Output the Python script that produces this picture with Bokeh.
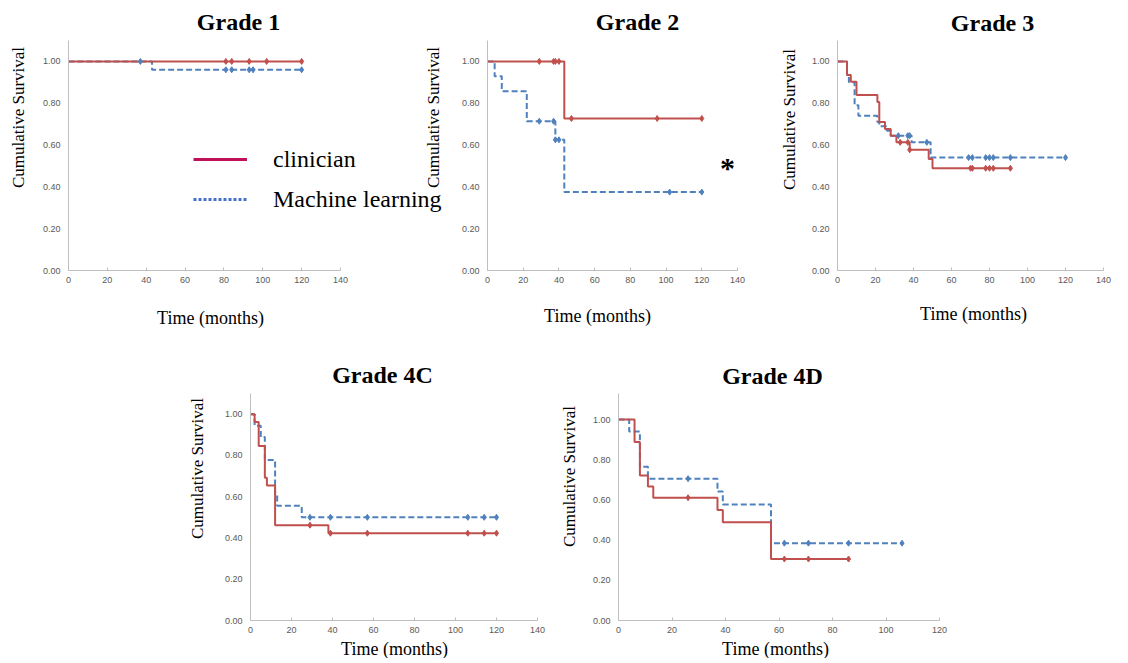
import numpy as np
from bokeh.plotting import figure
from bokeh.models import (Label, Legend, LegendItem, FixedTicker,
                          NumeralTickFormatter, Range1d, Spacer)
from bokeh.layouts import row, column
from bokeh.embed import file_html
from bokeh.resources import INLINE

RED = "#C0504D"
BLUE = "#4F81BD"
SERIF = "Liberation Serif"
SANS = "Liberation Sans"

# ---------------- data (Kaplan-Meier step values) ----------------
titles = ["Grade 1", "Grade 2", "Grade 3", "Grade 4C", "Grade 4D"]
x_max = [140, 140, 140, 140, 120]
y_ticks = [0.0, 0.2, 0.4, 0.6, 0.8, 1.0]
legend_labels = ["clinician", "Machine learning"]
y_title = "Cumulative Survival"
x_title = "Time (months)"
signif_mark = "*"

# Grade 1
g1_clin_t = [0, 120]
g1_clin_s = [1.0, 1.0]
g1_clin_cens = [81, 84, 93, 102, 120]
g1_ml_t = [0, 43, 120]
g1_ml_s = [1.0, 0.96, 0.96]
g1_ml_cens = [37, 81, 84, 93, 95, 120]

# Grade 2
g2_clin_t = [0, 43, 120]
g2_clin_s = [1.0, 0.727, 0.727]
g2_clin_cens = [29, 37, 38, 40, 47, 95, 120]
g2_ml_t = [0, 4, 8, 22, 38, 43, 120]
g2_ml_s = [1.0, 0.929, 0.857, 0.714, 0.625, 0.375, 0.375]
g2_ml_cens = [29, 37, 38, 40, 102, 120]

# Grade 3
g3_clin_t = [0, 5, 7, 10, 21, 22, 25, 28, 31, 38, 48, 50, 91]
g3_clin_s = [1.0, 0.935, 0.903, 0.839, 0.806, 0.710, 0.677, 0.645, 0.613,
             0.577, 0.533, 0.489, 0.489]
g3_clin_cens = [33, 37, 38, 70, 71, 78, 80, 82, 91]
g3_ml_t = [0, 5, 6, 9, 11, 21, 22, 26, 28, 39, 49, 120]
g3_ml_s = [1.0, 0.935, 0.90, 0.79, 0.74, 0.71, 0.69, 0.668, 0.645, 0.613,
           0.54, 0.54]
g3_ml_cens = [32, 37, 38, 47, 69, 71, 78, 80, 82, 91, 120]

# Grade 4C
g4c_clin_t = [0, 2, 4, 7, 8, 12, 38, 120]
g4c_clin_s = [1.0, 0.962, 0.846, 0.692, 0.654, 0.462, 0.423, 0.423]
g4c_clin_cens = [29, 39, 57, 106, 114, 120]
g4c_ml_t = [0, 2, 5, 7, 12, 13, 25, 120]
g4c_ml_s = [1.0, 0.944, 0.889, 0.778, 0.611, 0.556, 0.5, 0.5]
g4c_ml_cens = [29, 39, 57, 106, 114, 120]

# Grade 4D
g4d_clin_t = [0, 6, 8, 11, 13, 37, 39, 57, 86]
g4d_clin_s = [1.0, 0.889, 0.722, 0.667, 0.611, 0.55, 0.489, 0.306, 0.306]
g4d_clin_cens = [26, 62, 71, 86]
g4d_ml_t = [0, 4, 8, 11, 37, 39, 57, 106]
g4d_ml_s = [1.0, 0.941, 0.765, 0.706, 0.642, 0.578, 0.385, 0.385]
g4d_ml_cens = [26, 62, 71, 86, 106]


def surv_at(times, surv, cens):
    idx = np.searchsorted(np.asarray(times, float), np.asarray(cens, float), side="right") - 1
    return [surv[i] for i in idx]


def panel(w, h, left, top, fw, fh, xmax, ymax, clin, ml):
    p = figure(frame_width=fw, frame_height=fh,
               min_border_left=left, min_border_top=top,
               min_border_right=w - left - fw,
               min_border_bottom=h - top - fh,
               x_range=Range1d(0, xmax), y_range=Range1d(0, ymax),
               title=None, toolbar_location=None, tools="",
               output_backend="svg")
    p.outline_line_color = None
    p.border_fill_alpha = 0
    p.background_fill_alpha = 0
    p.xgrid.visible = False
    p.ygrid.visible = False
    for ax in (p.xaxis[0], p.yaxis[0]):
        ax.axis_line_color = "#BFBFBF"
        ax.axis_line_width = 1
        ax.major_tick_line_color = "#BFBFBF"
        ax.minor_tick_line_color = None
        ax.major_label_text_font = SANS
        ax.major_label_text_font_size = "9px"
        ax.major_label_text_color = "#595959"
    p.xaxis.ticker = FixedTicker(ticks=list(range(0, xmax + 1, 20)))
    p.yaxis.ticker = FixedTicker(ticks=y_ticks)
    p.yaxis.formatter = NumeralTickFormatter(format="0.00")
    p.xaxis.major_tick_in = 3
    p.xaxis.major_tick_out = 0
    p.yaxis.major_tick_in = 0
    p.yaxis.major_tick_out = 0
    p.xaxis.major_label_standoff = 6
    p.yaxis.major_label_standoff = 8

    ct, cs, cc = clin
    mt, ms, mc = ml
    p.step(x=mt, y=ms, mode="after", line_color=BLUE, line_width=2, line_dash="6 3")
    p.step(x=ct, y=cs, mode="after", line_color=RED, line_width=2)
    p.scatter(x=mc, y=surv_at(mt, ms, mc), marker="diamond", size=6,
              fill_color=BLUE, line_color=BLUE)
    p.scatter(x=cc, y=surv_at(ct, cs, cc), marker="diamond", size=6,
              fill_color=RED, line_color=RED)
    return p


# ---------------- panels (frames in a row share their top edge) ----------------
p1 = panel(412, 335, 68, 40, 272, 230, x_max[0], 1.1,
           (g1_clin_t, g1_clin_s, g1_clin_cens), (g1_ml_t, g1_ml_s, g1_ml_cens))
p2 = panel(368, 335, 75, 40, 250, 230, x_max[1], 1.1,
           (g2_clin_t, g2_clin_s, g2_clin_cens), (g2_ml_t, g2_ml_s, g2_ml_cens))
p3 = panel(332, 335, 57, 40, 266, 230, x_max[2], 1.1,
           (g3_clin_t, g3_clin_s, g3_clin_cens), (g3_ml_t, g3_ml_s, g3_ml_cens))
p4 = panel(382, 307, 72, 58, 287, 227, x_max[3], 1.1,
           (g4c_clin_t, g4c_clin_s, g4c_clin_cens), (g4c_ml_t, g4c_ml_s, g4c_ml_cens))
p5 = panel(400, 307, 58, 58, 321, 227, x_max[4], 1.13,
           (g4d_clin_t, g4d_clin_s, g4d_clin_cens), (g4d_ml_t, g4d_ml_s, g4d_ml_cens))

# ---------------- transparent text overlay (page pixel space) ----------------
OW, OH = 1112, 658
ov = figure(frame_width=OW, frame_height=OH, min_border=0,
            x_range=Range1d(0, OW), y_range=Range1d(0, OH),
            x_axis_type=None, y_axis_type=None, title=None,
            toolbar_location=None, tools="", output_backend="svg")
ov.outline_line_color = None
ov.border_fill_alpha = 0
ov.background_fill_alpha = 0
ov.xgrid.visible = False
ov.ygrid.visible = False


def txt(cx, cy, text, size, bold=False, angle=0.0):
    ov.add_layout(Label(x=cx, y=OH - cy, text=text, text_font=SERIF,
                        text_font_size=size,
                        text_font_style="bold" if bold else "normal",
                        text_color="black", text_align="center",
                        text_baseline="middle", angle=angle))


DY = 1  # vertical page offset of the overlay
title_pos = [(238, 22), (637, 22), (992, 23), (382, 375), (772, 376)]
ylab_pos = [(18, 118), (433, 118), (789, 120), (197, 469), (569, 477)]
xlab_pos = [(210, 318), (597, 316), (973, 314), (394, 649), (775, 649)]
for t, (tx, ty) in zip(titles, title_pos):
    txt(tx, ty - DY, t, "24px", bold=True)
for (lx, ly) in ylab_pos:
    txt(lx, ly - DY, y_title, "17px", angle=np.pi / 2)
for (lx, ly) in xlab_pos:
    txt(lx, ly - DY, x_title, "18px")
txt(727, 168 - DY, signif_mark, "30px", bold=True)

r_leg1 = ov.line(x=[np.nan, np.nan], y=[np.nan, np.nan], line_color="#C0105A", line_width=3)
r_leg2 = ov.line(x=[np.nan, np.nan], y=[np.nan, np.nan], line_color="#4472C4",
                 line_width=3, line_dash="3 2")
leg = Legend(items=[LegendItem(label=legend_labels[0], renderers=[r_leg1]),
                    LegendItem(label=legend_labels[1], renderers=[r_leg2])],
             location=(193, OH - (160 - DY + 14 + 12 + 28)), orientation="vertical",
             label_text_font=SERIF, label_text_font_size="24px",
             label_text_color="black",
             glyph_width=54, glyph_height=28, label_height=28,
             label_standoff=26, spacing=12, padding=0, margin=0,
             border_line_color=None, background_fill_alpha=0)
ov.add_layout(leg)

row1 = row(p1, p2, p3)
row1.margin = (-OH, 0, 0, 0)
row2 = row(Spacer(width=178, height=307), p4, p5)
layout = column(ov, row1, row2)

open("out.html", "w").write(file_html(layout, INLINE))
